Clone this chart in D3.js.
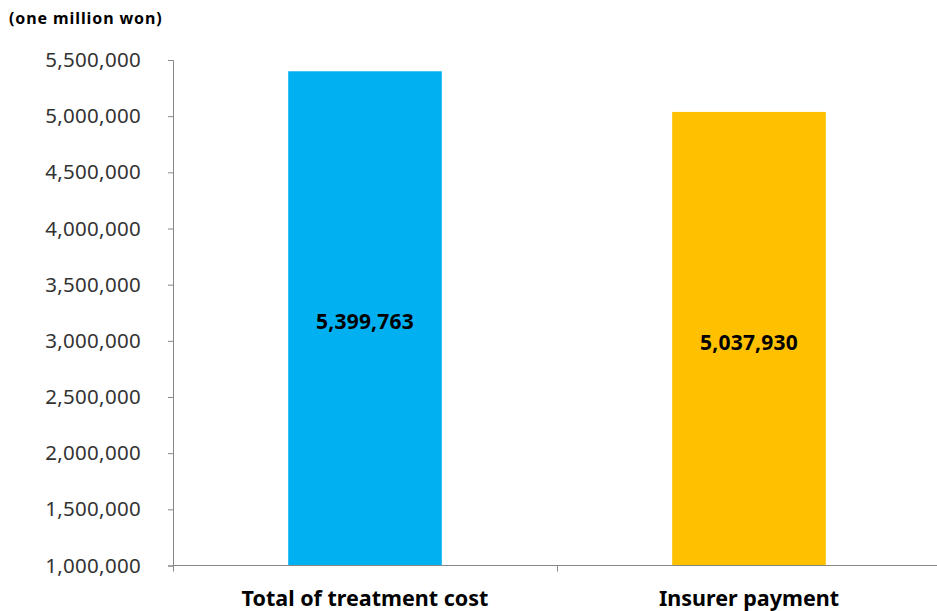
<!DOCTYPE html>
<html>
<head>
<meta charset="utf-8">
<script src="https://cdn.jsdelivr.net/npm/d3@7"></script>
<style>
  html, body { margin: 0; padding: 0; background: #fff; }
  svg { display: block; font-family: "Noto Sans", "Open Sans", sans-serif; }
</style>
</head>
<body>
<svg id="chart" width="937" height="611"></svg>
<script>
// Treatment cost vs. insurer payment (one million won)
const categories = ["Total of treatment cost", "Insurer payment"];
const values = [5399763, 5037930];
const barColors = ["#00B0F0", "#FFC000"];
const yTicks = [1000000, 1500000, 2000000, 2500000, 3000000, 3500000, 4000000, 4500000, 5000000, 5500000];
const unitLabel = "(one million won)";

const svg = d3.select("#chart");
const margin = { left: 173, right: -4, top: 60, bottom: 45 };
const W = 937, H = 611;

const x = d3.scaleBand()
  .domain(categories)
  .range([margin.left, W - margin.right])
  .paddingInner(0.6)
  .paddingOuter(0.3);

const y = d3.scaleLinear()
  .domain([1000000, 5500000])
  .range([H - margin.bottom - 0.5, margin.top]);

const fmt = d3.format(",");

// y axis
const yAxis = svg.append("g")
  .attr("transform", `translate(${margin.left},0)`)
  .call(d3.axisLeft(y).tickValues(yTicks).tickFormat(fmt).tickSize(5).tickPadding(27));
yAxis.select(".domain").attr("stroke", "#888");
yAxis.selectAll(".tick line").attr("stroke", "#888");
yAxis.selectAll(".tick text")
  .attr("fill", "#333")
  .style("font-family", "'Noto Sans', sans-serif")
  .style("font-size", "20.5px")
  .style("letter-spacing", "0.3px");

// bars
svg.append("g").selectAll("rect")
  .data(values)
  .join("rect")
  .attr("x", (d, i) => x(categories[i]))
  .attr("width", x.bandwidth())
  .attr("y", d => y(d))
  .attr("height", d => y(1000000) - y(d))
  .attr("fill", (d, i) => barColors[i]);

// value labels
svg.append("g").selectAll("text")
  .data(values)
  .join("text")
  .attr("x", (d, i) => x(categories[i]) + x.bandwidth() / 2)
  .attr("y", d => (y(d) + y(1000000)) / 2 + 3)
  .attr("text-anchor", "middle")
  .attr("dominant-baseline", "central")
  .attr("fill", "#000")
  .style("font-size", "21px")
  .style("font-weight", "bold")
  .style("letter-spacing", "0.2px")
  .text(d => fmt(d));

// x axis with category separators
const xAxisY = y(1000000);
const xg = svg.append("g");
xg.append("line")
  .attr("x1", margin.left).attr("x2", W)
  .attr("y1", xAxisY).attr("y2", xAxisY)
  .attr("stroke", "#888");
const edges = [x.range()[0], ...categories.slice(1).map(c => x(c) - x.step() * x.paddingInner() / 2)];
xg.selectAll("line.sep")
  .data(edges)
  .join("line")
  .attr("class", "sep")
  .attr("x1", d => d + 0.5).attr("x2", d => d + 0.5)
  .attr("y1", xAxisY).attr("y2", xAxisY + 6)
  .attr("stroke", "#888");

xg.selectAll("text")
  .data(categories)
  .join("text")
  .attr("x", d => x(d) + x.bandwidth() / 2)
  .attr("y", xAxisY + 40)
  .attr("text-anchor", "middle")
  .attr("fill", "#000")
  .style("font-size", "21.5px")
  .style("font-weight", "bold")
  .style("letter-spacing", "0px")
  .text(d => d);

// unit label
svg.append("text")
  .attr("x", 9)
  .attr("y", 24)
  .attr("fill", "#000")
  .style("font-size", "16px")
  .style("font-weight", "bold")
  .style("letter-spacing", "0.9px")
  .text(unitLabel);
</script>
</body>
</html>
